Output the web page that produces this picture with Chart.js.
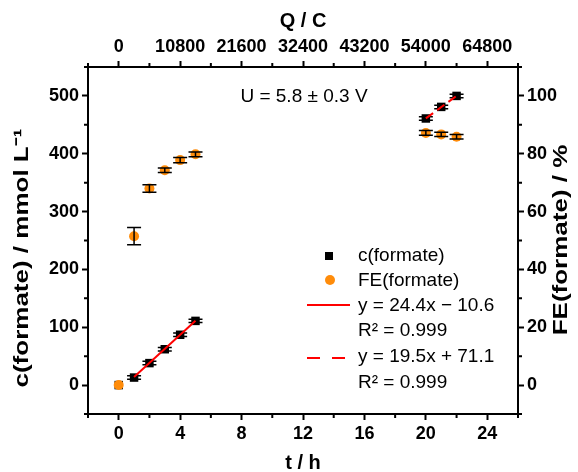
<!DOCTYPE html>
<html lang="en">
<head>
  <meta charset="UTF-8">
  <title>Formate production</title>
  <script src="https://cdn.jsdelivr.net/npm/chart.js"></script>
  <style>
    body {
      margin: 0;
      background-color: #ffffff;
    }
    .chart-container {
      width: 578px;
      height: 472px;
    }
  </style>
</head>
<body>

  <div class="chart-container">
    <canvas id="formateChart" width="578" height="472"></canvas>
  </div>

  <script>
    // measured data (t in h)
    const tHours = [0, 1, 2, 3, 4, 5, 20, 21, 22];
    const cFormate = [0, 13, 38, 62, 87, 111, 461, 481, 500];
    const cErr = [0, 3, 3, 3, 3, 3, 3, 3, 3];
    const feFormate = [0, 51.5, 68, 74.3, 77.8, 79.8, 87.2, 86.7, 85.9];
    const feErr = [0, 3, 1.3, 0.8, 0.9, 0.8, 0.8, 0.7, 0.8];

    // linear fits
    const fit1X = [1, 5];
    const fit1Y = [13.8, 111.4];
    const fit2X = [20, 22];
    const fit2Y = [461.1, 500.1];

    // ticks
    const tTicks = [0, 4, 8, 12, 16, 20, 24];
    const tMinor = [-2, 2, 6, 10, 14, 18, 22, 26];
    const qTicks = [0, 10800, 21600, 32400, 43200, 54000, 64800];
    const cTicks = [0, 100, 200, 300, 400, 500];
    const cMinor = [-50, 50, 150, 250, 350, 450, 550];
    const feTicks = [0, 20, 40, 60, 80, 100];
    const feMinor = [-10, 10, 30, 50, 70, 90, 110];

    const ORANGE = '#ff8c0a';
    const RED = '#ff0000';
    const tickFont = { family: 'Liberation Sans', size: 18, weight: 'bold' };
    const titleFont = { family: 'Liberation Sans', size: 20, weight: 'bold', lineHeight: 0.9 };

    const pts = (xs, ys) => xs.map((x, i) => ({ x: x, y: ys[i] }));
    const setTicks = arr => scale => { scale.ticks = arr.map(v => ({ value: v })); };

    const errorBars = {
      id: 'errorBars',
      afterDatasetDraw(chart, args) {
        const ds = chart.data.datasets[args.index];
        if (!ds.errors) return;
        const meta = args.meta;
        const yScale = chart.scales[meta.yAxisID];
        const ctx = chart.ctx;
        ctx.save();
        ctx.strokeStyle = '#000';
        ctx.lineWidth = 1.5;
        ds.data.forEach((p, i) => {
          const e = ds.errors[i];
          if (!e) return;
          const x = meta.data[i].x;
          const y1 = yScale.getPixelForValue(p.y - e);
          const y2 = yScale.getPixelForValue(p.y + e);
          ctx.beginPath();
          ctx.moveTo(x, y1); ctx.lineTo(x, y2);
          ctx.moveTo(x - 7, y1); ctx.lineTo(x + 7, y1);
          ctx.moveTo(x - 7, y2); ctx.lineTo(x + 7, y2);
          ctx.stroke();
        });
        ctx.restore();
      }
    };

    // rotated axis title, reads bottom to top, a little stretched like the original
    function vTitle(ctx, text, cx, cy) {
      ctx.save();
      ctx.translate(cx, cy);
      ctx.rotate(-Math.PI / 2);
      ctx.scale(1.3, 1);
      ctx.font = 'bold 20px "Liberation Sans"';
      ctx.fillStyle = '#000';
      ctx.textAlign = 'center';
      ctx.textBaseline = 'middle';
      ctx.fillText(text, 0, 0);
      ctx.restore();
    }

    const extras = {
      id: 'extras',
      afterDraw(chart) {
        const ctx = chart.ctx;
        const s = chart.scales;
        const a = chart.chartArea;
        ctx.save();
        // minor ticks
        ctx.strokeStyle = '#000';
        ctx.lineWidth = 2;
        ctx.beginPath();
        tMinor.forEach(v => {
          const x = s.x.getPixelForValue(v);
          ctx.moveTo(x, a.bottom); ctx.lineTo(x, a.bottom + 4);
          ctx.moveTo(x, a.top); ctx.lineTo(x, a.top - 4);
        });
        cMinor.forEach(v => {
          const y = s.y.getPixelForValue(v);
          ctx.moveTo(a.left, y); ctx.lineTo(a.left - 4, y);
        });
        feMinor.forEach(v => {
          const y = s.y2.getPixelForValue(v);
          ctx.moveTo(a.right, y); ctx.lineTo(a.right + 4, y);
        });
        ctx.stroke();

        vTitle(ctx, 'c(formate) / mmol L\u207b\u00b9', 22, 258);
        vTitle(ctx, 'FE(formate) / %', 561, 240);

        // voltage note
        ctx.fillStyle = '#000';
        ctx.font = '19px "Liberation Sans"';
        ctx.textAlign = 'center';
        ctx.textBaseline = 'middle';
        ctx.fillText('U = 5.8 \u00b1 0.3 V', 304, 97);

        // legend
        ctx.textAlign = 'left';
        const tx = 358;
        ctx.fillRect(325, 252, 8, 8);
        ctx.fillText('c(formate)', tx, 256);
        ctx.fillStyle = ORANGE;
        ctx.beginPath();
        ctx.arc(330, 280, 5, 0, Math.PI * 2);
        ctx.fill();
        ctx.fillStyle = '#000';
        ctx.fillText('FE(formate)', tx, 281);
        ctx.strokeStyle = RED;
        ctx.lineWidth = 2;
        ctx.beginPath();
        ctx.moveTo(307, 305); ctx.lineTo(350, 305);
        ctx.stroke();
        ctx.fillText('y = 24.4x \u2212 10.6', tx, 306);
        ctx.fillText('R\u00b2 = 0.999', tx, 331);
        ctx.setLineDash([13, 12]);
        ctx.beginPath();
        ctx.moveTo(307, 358); ctx.lineTo(350, 358);
        ctx.stroke();
        ctx.setLineDash([]);
        ctx.fillText('y = 19.5x + 71.1', tx, 357);
        ctx.fillText('R\u00b2 = 0.999', tx, 383);
        ctx.restore();
      }
    };

    const axisBase = {
      grid: { drawOnChartArea: false, drawTicks: true, tickLength: 6, tickColor: '#000', tickWidth: 2 },
      border: { display: true, color: '#000', width: 2 },
      ticks: { color: '#000', font: tickFont, padding: 3, callback: v => String(v) }
    };

    const ctx = document.getElementById('formateChart').getContext('2d');
    const formateChart = new Chart(ctx, {
      type: 'scatter',
      data: {
        datasets: [
          {
            label: 'c(formate)',
            data: pts(tHours, cFormate),
            errors: cErr,
            yAxisID: 'y',
            pointStyle: 'rect',
            pointRadius: 6,
            backgroundColor: '#000',
            borderColor: '#000',
            borderWidth: 0,
            order: 4
          },
          {
            label: 'FE(formate)',
            data: pts(tHours, feFormate),
            errors: feErr,
            yAxisID: 'y2',
            pointStyle: 'circle',
            pointRadius: 5,
            backgroundColor: ORANGE,
            borderColor: ORANGE,
            borderWidth: 0,
            order: 3
          },
          {
            label: 'fit 1',
            data: pts(fit1X, fit1Y),
            yAxisID: 'y',
            showLine: true,
            pointRadius: 0,
            borderColor: RED,
            borderWidth: 2,
            order: 2
          },
          {
            label: 'fit 2',
            data: pts(fit2X, fit2Y),
            yAxisID: 'y',
            showLine: true,
            pointRadius: 0,
            borderColor: RED,
            borderWidth: 2,
            borderDash: [9, 5],
            order: 1
          }
        ]
      },
      options: {
        responsive: false,
        animation: false,
        devicePixelRatio: 1,
        layout: { padding: 0 },
        plugins: {
          legend: { display: false },
          tooltip: { enabled: false }
        },
        scales: {
          x: {
            ...axisBase,
            type: 'linear',
            position: 'bottom',
            min: -2,
            max: 26,
            afterBuildTicks: setTicks(tTicks),
            afterFit: scale => { scale.height = 58; },
            title: { display: true, text: 't / h', color: '#000', font: titleFont, padding: { top: 0, bottom: 0 } }
          },
          x2: {
            ...axisBase,
            type: 'linear',
            position: 'top',
            min: -5400,
            max: 70200,
            afterBuildTicks: setTicks(qTicks),
            afterFit: scale => { scale.height = 67; },
            title: { display: true, text: 'Q / C', color: '#000', font: titleFont, padding: { top: 12, bottom: 0 } }
          },
          y: {
            ...axisBase,
            type: 'linear',
            position: 'left',
            min: -50,
            max: 550,
            afterBuildTicks: setTicks(cTicks),
            afterFit: scale => { scale.width = 88; }
          },
          y2: {
            ...axisBase,
            type: 'linear',
            position: 'right',
            min: -10,
            max: 110,
            afterBuildTicks: setTicks(feTicks),
            afterFit: scale => { scale.width = 60; }
          }
        }
      },
      plugins: [errorBars, extras]
    });
  </script>

</body>
</html>
